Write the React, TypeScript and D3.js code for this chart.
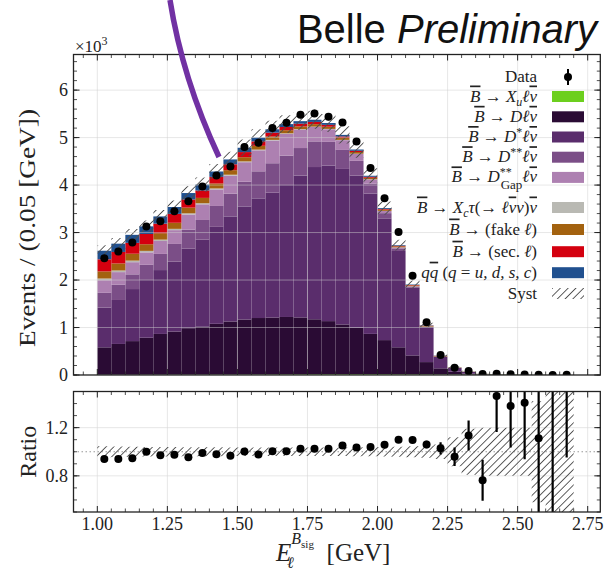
import React from "react";
import * as d3 from "d3";

// Lepton energy bins (lower edges, GeV), width 0.05 GeV
const binLow = [
  1.0, 1.05, 1.1, 1.15, 1.2, 1.25, 1.3, 1.35, 1.4, 1.45, 1.5, 1.55, 1.6, 1.65, 1.7, 1.75, 1.8,
  1.85, 1.9, 1.95, 2.0, 2.05, 2.1, 2.15, 2.2, 2.25, 2.3, 2.35, 2.4, 2.45, 2.5, 2.55, 2.6, 2.65,
];
const binWidth = 0.05;

// Observed events per bin
const dataCounts = [
  2460, 2600, 2790, 3130, 3240, 3450, 3660, 3970, 4200, 4390, 4800, 4890, 5200, 5310, 5480, 5510,
  5440, 5320, 4920, 4360, 3720, 3010, 2090, 1110, 420, 155, 83, 20, 24, 16, 9, 3, 2, 4,
];

// Simulated components (events per bin), stacked bottom to top
const xuLnu = [
  3, 4, 4, 5, 5, 6, 6, 7, 8, 8, 9, 10, 11, 12, 13, 14, 15, 15, 16, 16, 15, 14, 13, 12, 11, 10, 9, 8,
  7, 6, 3.5, 1.5, 0.6, 1.0,
];
const dLnu = [
  580, 650, 710, 780, 860, 910, 980, 1010, 1070, 1120, 1160, 1190, 1200, 1210, 1200, 1160, 1120,
  1050, 980, 850, 720, 570, 400, 260, 130, 60, 20, 3, 0, 0, 0, 0, 0, 0,
];
const dStarLnu = [
  837, 926, 1096, 1215, 1345, 1474, 1674, 1833, 2042, 2212, 2381, 2520, 2629, 2778, 2987, 3206,
  3275, 3275, 3204, 2954, 2564, 2028, 1425, 737, 245, 77, 34, 9, 4.4, 2.1, 0.4, 0.1, 0, 0.2,
];
const dStarStarLnu = [
  310, 320, 310, 320, 340, 370, 400, 415, 440, 480, 520, 570, 620, 620, 580, 540, 500, 400, 310,
  210, 110, 55, 22, 8, 3, 1, 0.5, 0, 0, 0, 0, 0, 0, 0,
];
const dGapLnu = [
  267, 267, 256, 263, 272, 291, 320, 330, 348, 379, 412, 442, 479, 459, 389, 303, 266, 206, 146, 90,
  45, 20, 8, 3, 1, 0.5, 0, 0, 0, 0, 0, 0, 0, 0,
];
const xcTau = [
  35, 34, 33, 31, 29, 27, 25, 23, 21, 19, 17, 15, 13, 11, 9, 8, 7, 6, 5, 4, 3, 2, 1.5, 1, 0.5, 0.2,
  0.1, 0, 0, 0, 0, 0, 0, 0,
];
const fakeLep = [
  150, 148, 145, 140, 135, 128, 120, 112, 104, 96, 88, 80, 72, 65, 58, 52, 46, 40, 35, 30, 26, 22,
  18, 14, 10, 8, 6, 4, 3, 2, 1.5, 0.6, 0.4, 0.6,
];
const secLep = [
  255, 243, 230, 216, 202, 188, 172, 156, 140, 124, 108, 93, 80, 68, 57, 47, 39, 32, 26, 20, 15, 11,
  8, 5, 3, 1, 0.5, 0.2, 0, 0, 0, 0, 0, 0,
];
const continuum = [
  180, 174, 168, 160, 152, 144, 135, 124, 113, 102, 91, 80, 70, 61, 53, 46, 39, 33, 27, 22, 18, 14,
  10, 7, 5, 4, 3, 2, 2, 1.5, 1, 0.5, 0.2, 0.3,
];

// Relative systematic uncertainty of the total simulation
const systRel = [
  0.045, 0.043, 0.042, 0.04, 0.04, 0.039, 0.038, 0.037, 0.037, 0.036, 0.036, 0.035, 0.035, 0.035,
  0.035, 0.035, 0.036, 0.036, 0.037, 0.038, 0.04, 0.042, 0.045, 0.05, 0.06, 0.12, 0.19, 0.2, 0.2,
  0.2, 0.2, 0.42, 0.8, 0.8,
];

const xTicks = [1.0, 1.25, 1.5, 1.75, 2.0, 2.25, 2.5, 2.75];
const mainYTicks = [0, 1, 2, 3, 4, 5, 6];
const ratioYTicks = [0.8, 1.2];

type Seg = { t: string; i?: boolean; o?: boolean; sh?: number; fs?: number; dx?: number };

const components: { key: string; values: number[]; color: string; label: Seg[] }[] = [
  {
    key: "xu",
    values: xuLnu,
    color: "#6ccf1e",
    label: [{ t: "B", i: true, o: true }, { t: " \u2192 " }, { t: "X", i: true }, { t: "u", i: true, sh: 4, fs: 12 }, { t: "\u2113", i: true, sh: 0 }, { t: "\u03bd", i: true, o: true }],
  },
  {
    key: "d",
    values: dLnu,
    color: "#2a0b34",
    label: [{ t: "B", i: true, o: true }, { t: " \u2192 " }, { t: "D\u2113", i: true }, { t: "\u03bd", i: true, o: true }],
  },
  {
    key: "dstar",
    values: dStarLnu,
    color: "#5a2d6c",
    label: [{ t: "B", i: true, o: true }, { t: " \u2192 " }, { t: "D", i: true }, { t: "*", sh: -6, fs: 12 }, { t: "\u2113", i: true, sh: 0 }, { t: "\u03bd", i: true, o: true }],
  },
  {
    key: "dss",
    values: dStarStarLnu,
    color: "#7b4e87",
    label: [{ t: "B", i: true, o: true }, { t: " \u2192 " }, { t: "D", i: true }, { t: "**", sh: -6, fs: 12 }, { t: "\u2113", i: true, sh: 0 }, { t: "\u03bd", i: true, o: true }],
  },
  {
    key: "dgap",
    values: dGapLnu,
    color: "#ad80b1",
    label: [{ t: "B", i: true, o: true }, { t: " \u2192 " }, { t: "D", i: true }, { t: "**", sh: -6, fs: 12 }, { t: "Gap", sh: 7, fs: 13, dx: -11 }, { t: "\u2113", i: true, sh: 0 }, { t: "\u03bd", i: true, o: true }],
  },
  {
    key: "tau",
    values: xcTau,
    color: "#b9b9b3",
    label: [{ t: "B", i: true, o: true }, { t: " \u2192 " }, { t: "X", i: true }, { t: "c", i: true, sh: 4, fs: 12 }, { t: "\u03c4", i: true, sh: 0 }, { t: "(\u2192 " }, { t: "\u2113", i: true }, { t: "\u03bd", i: true, o: true }, { t: "\u03bd", i: true }, { t: ")" }, { t: "\u03bd", i: true, o: true }],
  },
  {
    key: "fake",
    values: fakeLep,
    color: "#a3620f",
    label: [{ t: "B", i: true, o: true }, { t: " \u2192 (fake " }, { t: "\u2113", i: true }, { t: ")" }],
  },
  {
    key: "sec",
    values: secLep,
    color: "#d4000f",
    label: [{ t: "B", i: true, o: true }, { t: " \u2192 (sec. " }, { t: "\u2113", i: true }, { t: ")" }],
  },
  {
    key: "qq",
    values: continuum,
    color: "#20508f",
    label: [{ t: "q", i: true }, { t: "q", i: true, o: true }, { t: " (" }, { t: "q", i: true }, { t: " = " }, { t: "u, d, s, c", i: true }, { t: ")" }],
  },
];

const W = 605;
const H = 572;
const X0 = 73.5;
const X1 = 600.3;
const MAIN_TOP = 54.5;
const MAIN_BOT = 375;
const RAT_TOP = 391.5;
const RAT_BOT = 512;
const SERIF = "'Liberation Serif', 'Times New Roman', serif";

const rows = binLow.map((lo, i) => {
  const r: Record<string, number> = { lo };
  components.forEach((c) => (r[c.key] = c.values[i]));
  return r;
});
const stacked = d3.stack<Record<string, number>>().keys(components.map((c) => c.key))(rows);
const totals = binLow.map((_, i) => d3.sum(components, (c) => c.values[i]));

const x = d3.scaleLinear().domain([0.915, 2.795]).range([X0, X1]);
const yMain = d3.scaleLinear().domain([0, 6750]).range([MAIN_BOT, MAIN_TOP]);
const yRatio = d3.scaleLinear().domain([0.5, 1.5]).range([RAT_BOT, RAT_TOP]);

function renderSegs(segs: Seg[]) {
  let shift = 0;
  return segs.map((s, k) => {
    const target = s.sh !== undefined ? s.sh : shift;
    const dy = target - shift;
    shift = target;
    return (
      <tspan
        key={k}
        dy={dy !== 0 ? dy : undefined}
        dx={s.dx}
        fontStyle={s.i ? "italic" : "normal"}
        fontSize={s.fs}
        style={s.o ? { textDecoration: "overline" } : undefined}
      >
        {s.t.replace(/ /g, "\u00a0")}
      </tspan>
    );
  });
}

function stepArea(lo: number[], hi: number[], ys: d3.ScaleLinear<number, number>) {
  return binLow
    .map((b, i) => {
      const xa = x(b);
      const xb = x(b + binWidth);
      return `M${xa},${ys(lo[i])}H${xb}V${ys(hi[i])}H${xa}Z`;
    })
    .join("");
}

function Ticks({ top, bottom, yScale, yMajor, yMinor }: { top: number; bottom: number; yScale: d3.ScaleLinear<number, number>; yMajor: number[]; yMinor: number[] }) {
  const xMinor = d3.range(0.95, 2.8, 0.05).filter((v) => Math.abs(v / 0.25 - Math.round(v / 0.25)) > 1e-6);
  const els: React.ReactNode[] = [];
  const col = "#222";
  xTicks.forEach((v, k) => {
    const px = x(v);
    els.push(<line key={`xb${k}`} x1={px} x2={px} y1={bottom} y2={bottom - 6} stroke={col} strokeWidth={1} />);
    els.push(<line key={`xt${k}`} x1={px} x2={px} y1={top} y2={top + 6} stroke={col} strokeWidth={1} />);
  });
  xMinor.forEach((v, k) => {
    const px = x(v);
    if (px < X0 || px > X1) return;
    els.push(<line key={`xmb${k}`} x1={px} x2={px} y1={bottom} y2={bottom - 3.5} stroke={col} strokeWidth={0.8} />);
    els.push(<line key={`xmt${k}`} x1={px} x2={px} y1={top} y2={top + 3.5} stroke={col} strokeWidth={0.8} />);
  });
  yMajor.forEach((v, k) => {
    const py = yScale(v);
    if (py < top - 0.1 || py > bottom + 0.1) return;
    els.push(<line key={`yl${k}`} x1={X0} x2={X0 + 6} y1={py} y2={py} stroke={col} strokeWidth={1} />);
    els.push(<line key={`yr${k}`} x1={X1} x2={X1 - 6} y1={py} y2={py} stroke={col} strokeWidth={1} />);
  });
  yMinor.forEach((v, k) => {
    const py = yScale(v);
    if (py < top || py > bottom) return;
    els.push(<line key={`yml${k}`} x1={X0} x2={X0 + 3.5} y1={py} y2={py} stroke={col} strokeWidth={0.8} />);
    els.push(<line key={`ymr${k}`} x1={X1} x2={X1 - 3.5} y1={py} y2={py} stroke={col} strokeWidth={0.8} />);
  });
  return <g>{els}</g>;
}

export default function App() {
  const mainGridY = mainYTicks.map((v) => v * 1000);
  const ratios = dataCounts.map((n, i) => n / totals[i]);
  const ratioErr = dataCounts.map((n, i) => Math.sqrt(n) / totals[i]);
  const systLoMain = totals.map((t, i) => t * (1 - systRel[i]));
  const systHiMain = totals.map((t, i) => t * (1 + systRel[i]));
  const systLoRatio = systRel.map((s) => 1 - s);
  const systHiRatio = systRel.map((s) => 1 + s);

  const legendX = 537;
  const patchX = 552;
  const legendRows = [96.5, 116.8, 137, 157.2, 177.4, 207.5, 229.5, 251.7, 272.7];

  return (
    <svg width={W} height={H} style={{ position: "absolute", left: 0, top: 0, background: "#fff" }} fontFamily={SERIF}>
      <defs>
        <pattern id="hatch" patternUnits="userSpaceOnUse" width={5.5} height={5.5} patternTransform="rotate(45)">
          <line x1={0} y1={0} x2={0} y2={5.5} stroke="#4d4d4d" strokeWidth={1.8} />
        </pattern>
        <clipPath id="clipMain">
          <rect x={X0} y={MAIN_TOP} width={X1 - X0} height={MAIN_BOT - MAIN_TOP} />
        </clipPath>
        <clipPath id="clipRatio">
          <rect x={X0} y={RAT_TOP} width={X1 - X0} height={RAT_BOT - RAT_TOP} />
        </clipPath>
      </defs>

      {/* Title */}
      <text x={597} y={43} textAnchor="end" fontFamily="'Liberation Sans', Arial, sans-serif" fontSize={40} fill="#111">
        Belle <tspan fontStyle="italic">Preliminary</tspan>
      </text>

      {/* Main panel */}
      <g clipPath="url(#clipMain)">
        {stacked.map((layer, li) => (
          <g key={layer.key} fill={components[li].color}>
            {layer.map((d, i) => {
              const h = yMain(d[0]) - yMain(d[1]);
              if (h <= 0) return null;
              return <rect key={i} x={x(binLow[i])} width={x(binLow[i] + binWidth) - x(binLow[i])} y={yMain(d[1])} height={h} />;
            })}
          </g>
        ))}
        <path d={stepArea(systLoMain, systHiMain, yMain)} fill="url(#hatch)" />
        {xTicks.map((v) => (
          <line key={`gx${v}`} x1={x(v)} x2={x(v)} y1={MAIN_TOP} y2={MAIN_BOT} stroke="#cfcfcf" strokeOpacity={0.55} strokeWidth={0.9} />
        ))}
        {mainGridY.map((v) => (
          <line key={`gy${v}`} x1={X0} x2={X1} y1={yMain(v)} y2={yMain(v)} stroke="#cfcfcf" strokeOpacity={0.55} strokeWidth={0.9} />
        ))}
        {dataCounts.map((n, i) => {
          const cx = x(binLow[i] + binWidth / 2);
          const e = Math.sqrt(n);
          return (
            <g key={`d${i}`}>
              <line x1={cx} x2={cx} y1={yMain(n - e)} y2={yMain(n + e)} stroke="#000" strokeWidth={1.6} />
              <circle cx={cx} cy={yMain(n)} r={4} fill="#000" />
            </g>
          );
        })}
      </g>
      <rect x={X0} y={MAIN_TOP} width={X1 - X0} height={MAIN_BOT - MAIN_TOP} fill="none" stroke="#222" strokeWidth={1.3} />
      <Ticks top={MAIN_TOP} bottom={MAIN_BOT} yScale={yMain} yMajor={mainGridY} yMinor={d3.range(0, 7000, 200)} />
      {mainYTicks.map((v) => (
        <text key={`ml${v}`} x={68} y={yMain(v * 1000) + 6} textAnchor="end" fontSize={18} fill="#222">
          {v}
        </text>
      ))}
      <text x={75} y={52} fontSize={17} fill="#222">
        {"\u00d710"}
        <tspan dy={-7} fontSize={12}>
          3
        </tspan>
      </text>
      <text transform="translate(35,228) rotate(-90)" textAnchor="middle" fontSize={24} fill="#222" textLength={238} lengthAdjust="spacingAndGlyphs">
        Events / (0.05 [GeV])
      </text>

      {/* Legend */}
      <text x={legendX} y={82} textAnchor="end" fontSize={17} fill="#222">
        Data
      </text>
      <line x1={568} x2={568} y1={69} y2={85} stroke="#000" strokeWidth={2} />
      <circle cx={568} cy={77} r={4} fill="#000" />
      {components.map((c, k) => (
        <g key={`lg${c.key}`}>
          <text x={legendX} y={legendRows[k] + 5} textAnchor="end" fontSize={17} fill="#222">
            {renderSegs(c.label)}
          </text>
          <rect x={patchX} y={legendRows[k] - 5.5} width={32} height={11} fill={c.color} />
        </g>
      ))}
      <text x={legendX} y={293.5 + 5} textAnchor="end" fontSize={17} fill="#222">
        Syst
      </text>
      <rect x={patchX} y={288} width={32} height={11} fill="url(#hatch)" />

      {/* Ratio panel */}
      <g clipPath="url(#clipRatio)">
        {xTicks.map((v) => (
          <line key={`rgx${v}`} x1={x(v)} x2={x(v)} y1={RAT_TOP} y2={RAT_BOT} stroke="#d9d9d9" strokeOpacity={0.7} strokeWidth={0.9} />
        ))}
        {ratioYTicks.map((v) => (
          <line key={`rgy${v}`} x1={X0} x2={X1} y1={yRatio(v)} y2={yRatio(v)} stroke="#d9d9d9" strokeOpacity={0.7} strokeWidth={0.9} />
        ))}
        <line x1={X0} x2={X1} y1={yRatio(1)} y2={yRatio(1)} stroke="#999" strokeWidth={1.1} strokeDasharray="1.5 2.5" />
        <path d={stepArea(systLoRatio, systHiRatio, yRatio)} fill="url(#hatch)" />
        {ratios.map((r, i) => {
          const cx = x(binLow[i] + binWidth / 2);
          return (
            <g key={`r${i}`}>
              <line x1={cx} x2={cx} y1={yRatio(r - ratioErr[i])} y2={yRatio(r + ratioErr[i])} stroke="#000" strokeWidth={2.2} />
              <circle cx={cx} cy={yRatio(r)} r={4} fill="#000" />
            </g>
          );
        })}
      </g>
      <rect x={X0} y={RAT_TOP} width={X1 - X0} height={RAT_BOT - RAT_TOP} fill="none" stroke="#222" strokeWidth={1.3} />
      <Ticks top={RAT_TOP} bottom={RAT_BOT} yScale={yRatio} yMajor={[0.4, 0.8, 1.2, 1.6]} yMinor={d3.range(0.5, 1.51, 0.1)} />
      {ratioYTicks.map((v) => (
        <text key={`rl${v}`} x={68} y={yRatio(v) + 6} textAnchor="end" fontSize={18} fill="#222">
          {d3.format(".1f")(v)}
        </text>
      ))}
      <text transform={`translate(36,${(RAT_TOP + RAT_BOT) / 2}) rotate(-90)`} textAnchor="middle" fontSize={24} fill="#222">
        Ratio
      </text>
      {xTicks.map((v) => (
        <text key={`xl${v}`} x={x(v)} y={530} textAnchor="middle" fontSize={18} fill="#222">
          {d3.format(".2f")(v)}
        </text>
      ))}

      {/* x-axis label: E_l^{B_sig} [GeV] */}
      <text x={276} y={561} fontSize={25} fill="#222">
        <tspan fontStyle="italic">E</tspan>
        <tspan fontStyle="italic" fontSize={16} dy={-17}>B</tspan>
        <tspan fontSize={11} dy={4}>sig</tspan>
        <tspan fontStyle="italic" fontSize={16} dx={-27} dy={20}>{"\u2113"}</tspan>
        <tspan dx={33} dy={-7}>[GeV]</tspan>
      </text>

      {/* annotation stroke */}
      <path d="M170,0 Q182.4,78.5 219,157" fill="none" stroke="#7131a3" strokeWidth={5.5} />
    </svg>
  );
}
